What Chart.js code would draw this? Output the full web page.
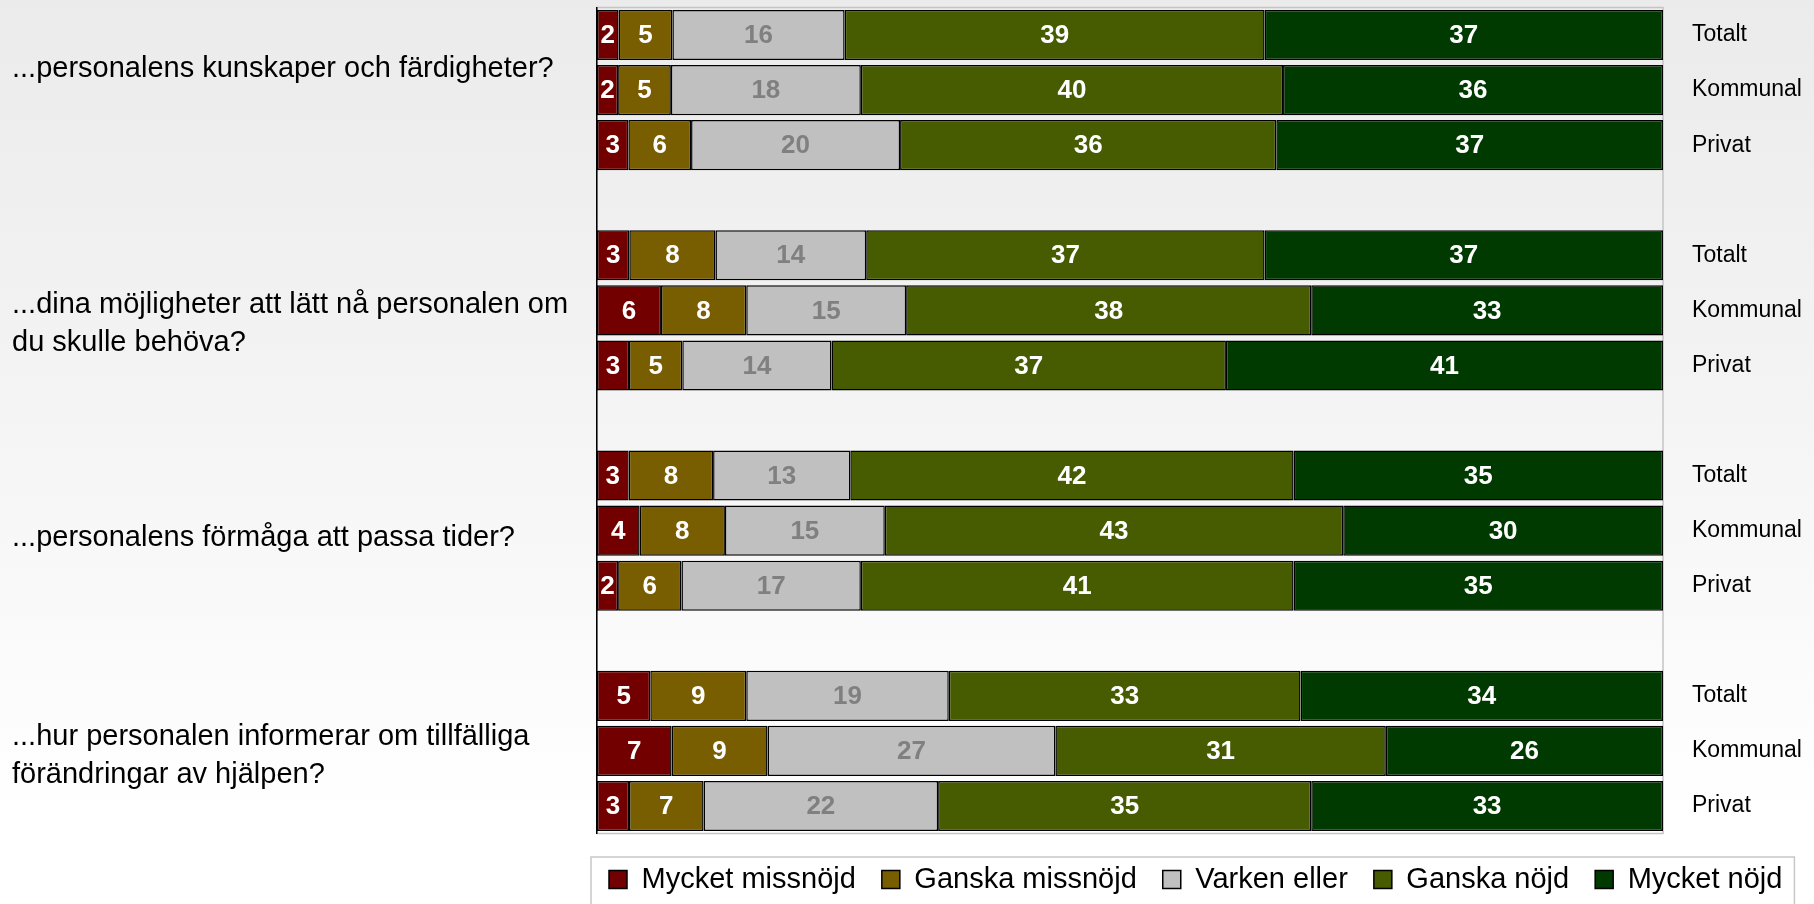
<!DOCTYPE html>
<html lang="sv">
<head>
<meta charset="utf-8">
<title>Nöjdhet med personalen</title>
<script src="https://cdn.jsdelivr.net/npm/chart.js@4.4.1/dist/chart.umd.min.js"></script>
<style>
  html, body { margin: 0; padding: 0; background: #fff; overflow: hidden; }
  #wrap { width: 1814px; height: 904px; position: relative; }
</style>
</head>
<body>
<div id="wrap"><canvas id="chart"></canvas></div>
<script>
const FONT = "'Liberation Sans', Arial, Helvetica, sans-serif";

// Data

const groups = ['Totalt', 'Kommunal', 'Privat'];

const questions = [
  ['...personalens kunskaper och färdigheter?'],
  ['...dina möjligheter att lätt nå personalen om', 'du skulle behöva?'],
  ['...personalens förmåga att passa tider?'],
  ['...hur personalen informerar om tillfälliga', 'förändringar av hjälpen?']
];

const seriesNames = ['Mycket missnöjd', 'Ganska missnöjd', 'Varken eller', 'Ganska nöjd', 'Mycket nöjd'];

// per bar, in order: question 1 Totalt/Kommunal/Privat, question 2 ..., question 4
const mycketMissnojd = [2, 2, 3,   3, 6, 3,   3, 4, 2,   5, 7, 3];
const ganskaMissnojd = [5, 5, 6,   8, 8, 5,   8, 8, 6,   9, 9, 7];
const varkenEller    = [16, 18, 20, 14, 15, 14, 13, 15, 17, 19, 27, 22];
const ganskaNojd     = [39, 40, 36, 37, 38, 37, 42, 43, 41, 33, 31, 35];
const mycketNojd     = [37, 36, 37, 37, 33, 41, 35, 30, 35, 34, 26, 33];

const seriesColors = ['#730000', '#785e00', '#c0c0c0', '#475c00', '#003a00'];
const valueColors  = ['#ffffff', '#ffffff', '#808080', '#ffffff', '#ffffff'];

// baseline of first question line, relative to the middle bar of its group
const questionOffsets = [-13, 3, 15, -6];

// Build rows (3 bars per question, an empty row between questions)

const allSeries = [mycketMissnojd, ganskaMissnojd, varkenEller, ganskaNojd, mycketNojd];
const rows = [];        // index into the series arrays, or null for a spacer row
const rowLabels = [];
const middleRows = [];  // row index of the middle bar of each question

questions.forEach((q, qi) => {
  groups.forEach((g, gi) => {
    if (gi === 1) middleRows.push(rows.length);
    rows.push(qi * groups.length + gi);
    rowLabels.push(g);
  });
  if (qi < questions.length - 1) { rows.push(null); rowLabels.push(''); }
});

// 100 % stacked: every bar is scaled to its own total
const totals = mycketMissnojd.map((_, i) => allSeries.reduce((s, arr) => s + arr[i], 0));

const datasets = allSeries.map((arr, si) => ({
  label: seriesNames[si],
  data: rows.map(r => r === null ? null : arr[r] / totals[r] * 100),
  shown: rows.map(r => r === null ? null : arr[r]),
  backgroundColor: seriesColors[si],
  borderColor: '#000000',
  borderWidth: 1.5,
  borderSkipped: false,
  barPercentage: 0.91,
  categoryPercentage: 1
}));

// Plugins

const backdrop = {
  id: 'backdrop',
  beforeDraw(chart) {
    const { ctx, width, height, chartArea, legend } = chart;
    ctx.save();
    const grad = ctx.createLinearGradient(0, 0, 0, height);
    grad.addColorStop(0, '#ebebeb');
    grad.addColorStop(0.45, '#f4f4f4');
    grad.addColorStop(0.9, '#ffffff');
    ctx.fillStyle = grad;
    ctx.fillRect(0, 0, width, height);

    // light frame round the plot area
    ctx.strokeStyle = '#c4c4c4';
    ctx.lineWidth = 1.5;
    ctx.strokeRect(chartArea.left, chartArea.top, chartArea.right - chartArea.left, chartArea.bottom - chartArea.top);

    // white box behind the legend
    const hb = legend.legendHitBoxes;
    if (hb && hb.length) {
      const last = hb[hb.length - 1];
      const x0 = hb[0].left - 18;
      const x1 = last.left + last.width + 12;
      const y0 = legend.top + 18;
      ctx.fillStyle = '#ffffff';
      ctx.fillRect(x0, y0, x1 - x0, height - y0 + 2);
      ctx.strokeStyle = '#c8c8c8';
      ctx.lineWidth = 1.5;
      ctx.strokeRect(x0, y0, x1 - x0, height - y0 + 4);
    }
    ctx.restore();
  }
};

const barValues = {
  id: 'barValues',
  afterDatasetsDraw(chart) {
    const { ctx } = chart;
    ctx.save();
    ctx.font = `bold 26px ${FONT}`;
    ctx.textAlign = 'center';
    ctx.textBaseline = 'middle';
    chart.data.datasets.forEach((ds, di) => {
      const meta = chart.getDatasetMeta(di);
      meta.data.forEach((bar, i) => {
        const v = ds.shown[i];
        if (v === null || v === undefined) return;
        ctx.fillStyle = valueColors[di];
        ctx.fillText(String(v), (bar.x + bar.base) / 2, bar.y + 1);
      });
    });
    ctx.restore();
  }
};

const questionText = {
  id: 'questionText',
  afterDraw(chart) {
    const { ctx } = chart;
    const yScale = chart.scales.y;
    ctx.save();
    ctx.font = `29px ${FONT}`;
    ctx.fillStyle = '#000000';
    ctx.textAlign = 'left';
    ctx.textBaseline = 'alphabetic';
    questions.forEach((lines, qi) => {
      const base = yScale.getPixelForValue(middleRows[qi]) + questionOffsets[qi];
      lines.forEach((line, li) => ctx.fillText(line, 12, base + li * 38));
    });
    ctx.restore();
  }
};

const noPad = s => { s.paddingTop = 0; s.paddingBottom = 0; s.paddingLeft = 0; s.paddingRight = 0; };

// Chart

new Chart(document.getElementById('chart'), {
  type: 'bar',
  data: { labels: rowLabels, datasets },
  options: {
    indexAxis: 'y',
    responsive: true,
    maintainAspectRatio: false,
    animation: false,
    layout: { padding: { top: 7.5, left: 583, right: 0, bottom: 0 } },
    plugins: {
      tooltip: { enabled: false },
      legend: {
        position: 'bottom',
        align: 'start',
        labels: {
          color: '#000000',
          font: { family: FONT, size: 29 },
          boxWidth: 18,
          boxHeight: 18,
          padding: 26
        }
      }
    },
    scales: {
      x: {
        stacked: true, min: 0, max: 100,
        grid: { display: false },
        border: { display: false },
        ticks: { display: false },
        afterFit: s => { noPad(s); s.height = 5.5; }
      },
      y: {
        stacked: true,
        position: 'left',
        grid: { display: false },
        border: { display: true, color: '#000000', width: 1.5 },
        ticks: { display: false },
        afterFit: s => { noPad(s); s.width = 14; }
      },
      y2: {
        type: 'category',
        labels: rowLabels,
        position: 'right',
        offset: true,
        grid: { display: false, drawTicks: false },
        border: { display: false },
        ticks: { color: '#000000', font: { family: FONT, size: 23 }, padding: 29 },
        afterFit: s => { noPad(s); s.width = 151; }
      }
    }
  },
  plugins: [backdrop, barValues, questionText]
});
</script>
</body>
</html>
